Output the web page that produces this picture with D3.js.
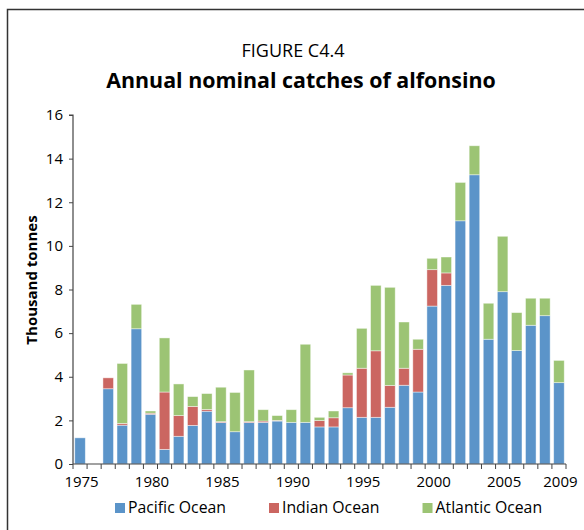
<!DOCTYPE html>
<html>
<head>
<meta charset="utf-8">
<script src="https://cdn.jsdelivr.net/npm/d3@7"></script>
<style>
  html, body { margin: 0; padding: 0; background: #fff; }
  svg { display: block; }
  text { font-family: "Open Sans", "Noto Sans", sans-serif; fill: #000; }
</style>
</head>
<body>
<svg id="chart" width="584" height="530"></svg>
<script>
const years = d3.range(1975, 2010).map(String);
const pacific = [1.2, 0, 3.45, 1.78, 6.2, 2.28, 0.67, 1.27, 1.77, 2.42,
                 1.9, 1.48, 1.9, 1.91, 1.97, 1.91, 1.91, 1.7, 1.7, 2.58,
                 2.14, 2.14, 2.6, 3.61, 3.3, 7.24, 8.19, 11.15, 13.26, 5.72,
                 7.9, 5.2, 6.36, 6.8, 3.73];
const indian = [0, 0, 0.5, 0.08, 0, 0.05, 2.63, 0.95, 0.87, 0.08,
                0.04, 0, 0.04, 0.06, 0.03, 0, 0, 0.29, 0.42, 1.5,
                2.25, 3.05, 1.0, 0.78, 1.96, 1.67, 0.57, 0, 0, 0,
                0, 0, 0, 0, 0];
const atlantic = [0, 0, 0, 2.75, 1.12, 0.1, 2.48, 1.45, 0.45, 0.73,
                  1.58, 1.8, 2.37, 0.52, 0.22, 0.58, 3.58, 0.15, 0.31, 0.1,
                  1.83, 3.0, 4.5, 2.12, 0.46, 0.52, 0.73, 1.76, 1.33, 1.65,
                  2.54, 1.74, 1.24, 0.8, 1.02];
const seriesNames = ["Pacific Ocean", "Indian Ocean", "Atlantic Ocean"];
const seriesColors = ["#5b94c9", "#cb6661", "#9cc474"];
const xTickLabels = ["1975", "1980", "1985", "1990", "1995", "2000", "2005", "2009"];
const yTicks = [0, 2, 4, 6, 8, 10, 12, 14, 16];
const titleLine1 = "FIGURE C4.4";
const titleLine2 = "Annual nominal catches of alfonsino";
const yTitle = "Thousand tonnes";

const svg = d3.select("#chart");

// frame
svg.append("rect").attr("x", 7.5).attr("y", 9.5).attr("width", 620).attr("height", 620)
  .attr("fill", "none").attr("stroke", "#333").attr("stroke-width", 1.5);

const rows = years.map((y, i) => ({year: y, "Pacific Ocean": pacific[i], "Indian Ocean": indian[i], "Atlantic Ocean": atlantic[i]}));
const stacked = d3.stack().keys(seriesNames)(rows);

const x = d3.scaleBand().domain(years).range([73, 566]).paddingInner(0.25).paddingOuter(0.125);
const y = d3.scaleLinear().domain([0, 16]).range([464, 115]);
const color = d3.scaleOrdinal().domain(seriesNames).range(seriesColors);

// bars
svg.append("g").selectAll("g").data(stacked).join("g")
  .attr("fill", d => color(d.key))
  .selectAll("rect").data(d => d.filter(p => p[1] - p[0] > 0)).join("rect")
  .attr("x", d => x(d.data.year))
  .attr("width", x.bandwidth())
  .attr("y", d => y(d[1]))
  .attr("height", d => y(d[0]) - y(d[1]))
  .attr("stroke", "rgba(255,255,255,0.55)")
  .attr("stroke-width", 0.8);

// y axis
const yAxis = svg.append("g").attr("transform", "translate(73,0)")
  .call(d3.axisLeft(y).tickValues(yTicks).tickSize(4).tickPadding(6));
yAxis.select(".domain").attr("stroke", "#444").attr("stroke-width", 1.2).attr("d", `M-4,${y(16)}H0V${y(0)}`);
yAxis.selectAll(".tick line").attr("stroke", "#444");
yAxis.selectAll("text").style("font-size", "15px").attr("fill", "#000")
  .style("font-family", '"Open Sans", sans-serif');

// x axis
const xAxisG = svg.append("g").attr("transform", `translate(0,${y(0)})`);
xAxisG.append("line").attr("x1", 73).attr("x2", 566).attr("stroke", "#444").attr("stroke-width", 1.2);
const boundaries = years.map(yr => x(yr) - x.step() * x.paddingOuter()).concat([x.range()[1]]);
xAxisG.selectAll("line.tk").data(boundaries).join("line").attr("class", "tk")
  .attr("x1", d => d).attr("x2", d => d).attr("y1", 0).attr("y2", 5)
  .attr("stroke", "#444").attr("stroke-width", 1);
xAxisG.selectAll("text").data(xTickLabels).join("text")
  .attr("x", d => x(d) + x.bandwidth() / 2 + 1.5)
  .attr("y", 23)
  .attr("text-anchor", "middle")
  .style("font-size", "15px")
  .text(d => d);

// titles
svg.append("text").attr("x", 293).attr("y", 57).attr("text-anchor", "middle")
  .style("font-size", "18px").text(titleLine1);
svg.append("text").attr("x", 301).attr("y", 88).attr("text-anchor", "middle")
  .style("font-size", "21.4px").style("font-weight", "bold").text(titleLine2);

// y title
svg.append("text").attr("transform", `translate(37,280) rotate(-90)`)
  .attr("text-anchor", "middle").style("font-size", "15px").style("font-weight", "bold")
  .text(yTitle);

// legend
const legend = svg.append("g");
let lx = 115;
seriesNames.forEach((name, i) => {
  const g = legend.append("g");
  g.append("rect").attr("x", lx).attr("y", 503).attr("width", 10).attr("height", 10).attr("fill", seriesColors[i]);
  const t = g.append("text").attr("x", lx + 13).attr("y", 513).style("font-size", "15.8px").text(name);
  lx += 13 + t.node().getComputedTextLength() + 43;
});
</script>
</body>
</html>
